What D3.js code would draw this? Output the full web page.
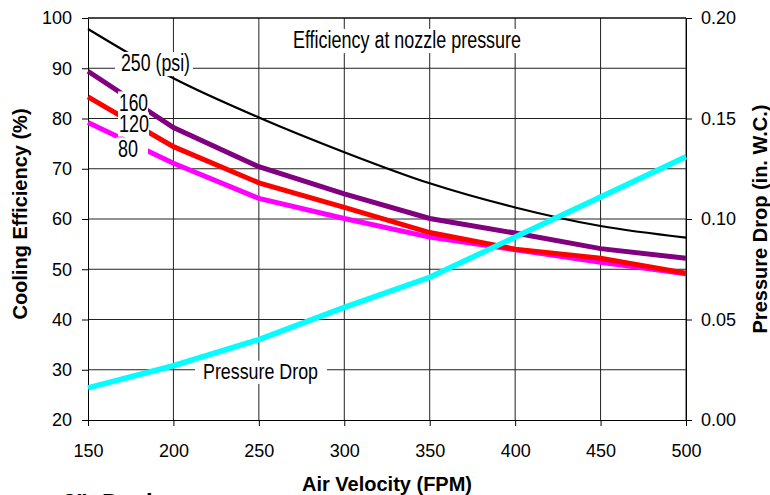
<!DOCTYPE html>
<html>
<head>
<meta charset="utf-8">
<script src="https://cdn.jsdelivr.net/npm/d3@7"></script>
<style>
  body { margin: 0; background: #fff; }
  svg { display: block; font-family: "Liberation Sans", Arial, sans-serif; }
</style>
</head>
<body>
<svg width="770" height="495"></svg>
<script>
// air velocity (FPM)
var velocity = [150, 200, 250, 300, 350, 400, 450, 500];
// cooling efficiency (%) at nozzle pressure
var eff250 = [97.8, 88.0, 80.2, 73.3, 67.1, 62.3, 58.6, 56.3];
var eff160 = [89.4, 78.2, 70.4, 65.0, 60.1, 57.2, 54.1, 52.2];
var eff120 = [84.3, 74.4, 67.2, 62.3, 57.3, 54.0, 52.2, 49.2];
var eff80  = [79.2, 71.1, 64.1, 60.1, 56.4, 53.9, 51.4, 49.1];
// pressure drop (in. W.C.)
var pressure = [0.016, 0.027, 0.040, 0.056, 0.071, 0.091, 0.111, 0.131];
var effTicks = [20, 30, 40, 50, 60, 70, 80, 90, 100];
var dropTicks = [0, 0.05, 0.10, 0.15, 0.20];

var svg = d3.select("svg");
var pL = 88, pR = 686, pT = 18, pB = 420;

var x = d3.scaleLinear().domain([150, 500]).range([pL, pR]);
var y = d3.scaleLinear().domain([20, 100]).range([pB, pT]);
var y2 = d3.scaleLinear().domain([0, 0.2]).range([pB, pT]);

// grid
svg.append("g").selectAll("line").data(effTicks.slice(1)).join("line")
  .attr("x1", pL).attr("x2", pR)
  .attr("y1", function(d) { return y(d); }).attr("y2", function(d) { return y(d); })
  .attr("stroke", "#222").attr("stroke-width", 1);
svg.append("g").selectAll("line").data(velocity.slice(1)).join("line")
  .attr("x1", function(d) { return x(d); }).attr("x2", function(d) { return x(d); })
  .attr("y1", pT).attr("y2", pB)
  .attr("stroke", "#222").attr("stroke-width", 1);

// axes
var gx = svg.append("g")
  .attr("transform", "translate(0," + pB + ")")
  .call(d3.axisBottom(x).tickValues(velocity).tickSize(6).tickSizeOuter(0).tickPadding(18));
var gy = svg.append("g")
  .attr("transform", "translate(" + pL + ",0)")
  .call(d3.axisLeft(y).tickValues(effTicks).tickSize(6).tickSizeOuter(0).tickPadding(10));
var gy2 = svg.append("g")
  .attr("transform", "translate(" + pR + ",0)")
  .call(d3.axisRight(y2).tickValues(dropTicks).tickFormat(d3.format(".2f"))
    .tickSize(6).tickSizeOuter(0).tickPadding(9));
[gx, gy, gy2].forEach(function(g) {
  g.selectAll("text").attr("font-size", 18).attr("fill", "#000")
    .attr("font-family", "Liberation Sans, Arial, sans-serif");
  g.selectAll("line, path").attr("stroke", "#000");
});
svg.append("line").attr("x1", pL).attr("x2", pR)
  .attr("y1", pT).attr("y2", pT).attr("stroke", "#000");

// lines
function series(vals, scale, curve) {
  return d3.line()
    .x(function(d, i) { return x(velocity[i]); })
    .y(function(d) { return scale(d); })
    .curve(curve || d3.curveLinear)(vals);
}
svg.append("path").attr("d", series(eff250, y, d3.curveMonotoneX))
  .attr("fill", "none").attr("stroke", "#000").attr("stroke-width", 2.2);
svg.append("path").attr("d", series(eff160, y))
  .attr("fill", "none").attr("stroke", "#800080").attr("stroke-width", 5);
svg.append("path").attr("d", series(eff80, y))
  .attr("fill", "none").attr("stroke", "#ff00ff").attr("stroke-width", 5);
svg.append("path").attr("d", series(eff120, y))
  .attr("fill", "none").attr("stroke", "#ff0000").attr("stroke-width", 5);
svg.append("path").attr("d", series(pressure, y2))
  .attr("fill", "none").attr("stroke", "#00ffff").attr("stroke-width", 5.5);

// labels with white boxes
function label(txt, x0, base, len, fs, padL, padR, boxTo) {
  var bx = x0 - padL;
  var bw = (boxTo || (x0 + len + padR)) - bx;
  svg.append("rect").attr("x", bx).attr("y", base - 0.83 * fs)
    .attr("width", bw).attr("height", 1.05 * fs).attr("fill", "#fff");
  svg.append("text").attr("x", x0).attr("y", base)
    .attr("font-size", fs).attr("textLength", len)
    .attr("lengthAdjust", "spacingAndGlyphs").attr("fill", "#000")
    .text(txt);
}
label("Efficiency at nozzle pressure", 293, 48, 228, 23, 4, 4);
label("250 (psi)", 121, 71, 69, 23, 6, 3);
label("160", 119, 110.5, 29, 23, 1, 0);
label("120", 119, 131.5, 30, 23, 1, 0);
label("80", 118, 156.5, 20, 23, 2, 0, 148);
label("Pressure Drop", 203, 379, 115, 22, 8, 9);

// axis titles
svg.append("text").attr("x", (pL + pR) / 2).attr("y", 491)
  .attr("text-anchor", "middle").attr("font-size", 20).attr("font-weight", "bold")
  .text("Air Velocity (FPM)");
svg.append("text").attr("transform", "translate(27,214) rotate(-90)")
  .attr("text-anchor", "middle").attr("font-size", 20).attr("font-weight", "bold")
  .text("Cooling Efficiency (%)");
svg.append("text").attr("transform", "translate(767,219) rotate(-90)")
  .attr("text-anchor", "middle").attr("font-size", 20).attr("font-weight", "bold")
  .text("Pressure Drop (in. W.C.)");

// caption cut off at the bottom edge
svg.append("text").attr("x", 63).attr("y", 511)
  .attr("font-size", 24).attr("font-weight", "bold").text("3\"");
svg.append("text").attr("x", 102).attr("y", 511)
  .attr("font-size", 24).attr("font-weight", "bold").text("Deck");
</script>
</body>
</html>
